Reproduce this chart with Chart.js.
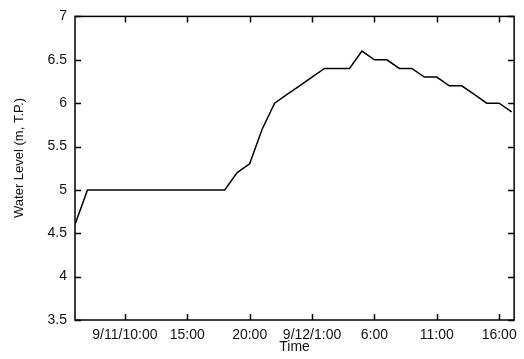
<!DOCTYPE html>
<html>
<head>
<meta charset="utf-8">
<script src="https://cdn.jsdelivr.net/npm/chart.js@4.4.0/dist/chart.umd.min.js"></script>
<style>
    html, body { margin: 0; padding: 0; background: #fff; }
    #wrap { width: 524px; height: 359px; }
</style>
</head>
<body>
<div id="wrap"><canvas id="level-chart" width="524" height="359"></canvas></div>
<script>
// hours counted from 9/11 0:00
const hours = [6, 7, 18, 19, 20, 21, 22, 23, 24, 25, 26, 28, 29, 30, 31, 32, 33, 34, 35, 36, 37, 38, 39, 40, 41];
const waterLevel = [4.6, 5.0, 5.0, 5.2, 5.3, 5.7, 6.0, 6.1, 6.2, 6.3, 6.4, 6.4, 6.6, 6.5, 6.5, 6.4, 6.4, 6.3, 6.3, 6.2, 6.2, 6.1, 6.0, 6.0, 5.9];
const xTicks = [10, 15, 20, 25, 30, 35, 40];
const xTickLabels = ['9/11/10:00', '15:00', '20:00', '9/12/1:00', '6:00', '11:00', '16:00'];
const yTicks = [3.5, 4, 4.5, 5, 5.5, 6, 6.5, 7];

const FONT = '"Liberation Sans", Arial, Helvetica, sans-serif';

// frame + inward ticks on all four sides, plus axis titles
const framePlugin = {
    id: 'frame',
    afterDraw(chart) {
        const { ctx, chartArea: a, scales } = chart;
        const len = 6;
        ctx.save();
        ctx.strokeStyle = '#000';
        ctx.lineWidth = 1.5;
        ctx.strokeRect(a.left, a.top, a.right - a.left, a.bottom - a.top);

        ctx.lineWidth = 1.5;
        ctx.beginPath();
        xTicks.forEach(v => {
            const x = Math.round(scales.x.getPixelForValue(v)) + 0.5;
            ctx.moveTo(x, a.bottom); ctx.lineTo(x, a.bottom - len);
            ctx.moveTo(x, a.top); ctx.lineTo(x, a.top + len);
        });
        yTicks.forEach(v => {
            const y = Math.round(scales.y.getPixelForValue(v)) + 0.5;
            ctx.moveTo(a.left, y); ctx.lineTo(a.left + len, y);
            ctx.moveTo(a.right, y); ctx.lineTo(a.right - len, y);
        });
        ctx.stroke();

        ctx.fillStyle = '#111';
        ctx.font = '14px ' + FONT;
        ctx.textAlign = 'center';
        ctx.textBaseline = 'middle';
        ctx.fillText('Time', (a.left + a.right) / 2, 347);

        ctx.font = '13px ' + FONT;
        ctx.translate(19.5, 158);
        ctx.rotate(-Math.PI / 2);
        ctx.fillText('Water Level (m, T.P.)', 0, 0);
        ctx.restore();
    }
};

new Chart('level-chart', {
    type: 'line',
    data: {
        datasets: [{
            data: hours.map((h, i) => ({ x: h, y: waterLevel[i] })),
            borderColor: '#000',
            borderWidth: 1.5,
            pointRadius: 0,
            tension: 0,
            fill: false
        }]
    },
    options: {
        responsive: false,
        animation: false,
        events: [],
        layout: { padding: { top: 12, right: 9, left: 0, bottom: 0 } },
        plugins: {
            legend: { display: false },
            tooltip: { enabled: false }
        },
        scales: {
            x: {
                type: 'linear',
                min: 6,
                max: 41.2,
                afterBuildTicks: (scale) => { scale.ticks = xTicks.map(v => ({ value: v })); },
                afterFit: (scale) => { scale.height = 39; },
                grid: { display: false, drawTicks: false },
                border: { display: false },
                ticks: {
                    autoSkip: false,
                    maxRotation: 0,
                    padding: 7,
                    color: '#111',
                    font: { family: FONT, size: 14 },
                    callback: (v) => xTickLabels[xTicks.indexOf(v)]
                }
            },
            y: {
                min: 3.5,
                max: 7,
                afterBuildTicks: (scale) => { scale.ticks = yTicks.map(v => ({ value: v })); },
                afterFit: (scale) => { scale.width = 75; },
                grid: { display: false, drawTicks: false },
                border: { display: false },
                ticks: {
                    padding: 8,
                    color: '#111',
                    font: { family: FONT, size: 14 },
                    callback: (v) => String(v)
                }
            }
        }
    },
    plugins: [framePlugin]
});
</script>
</body>
</html>
